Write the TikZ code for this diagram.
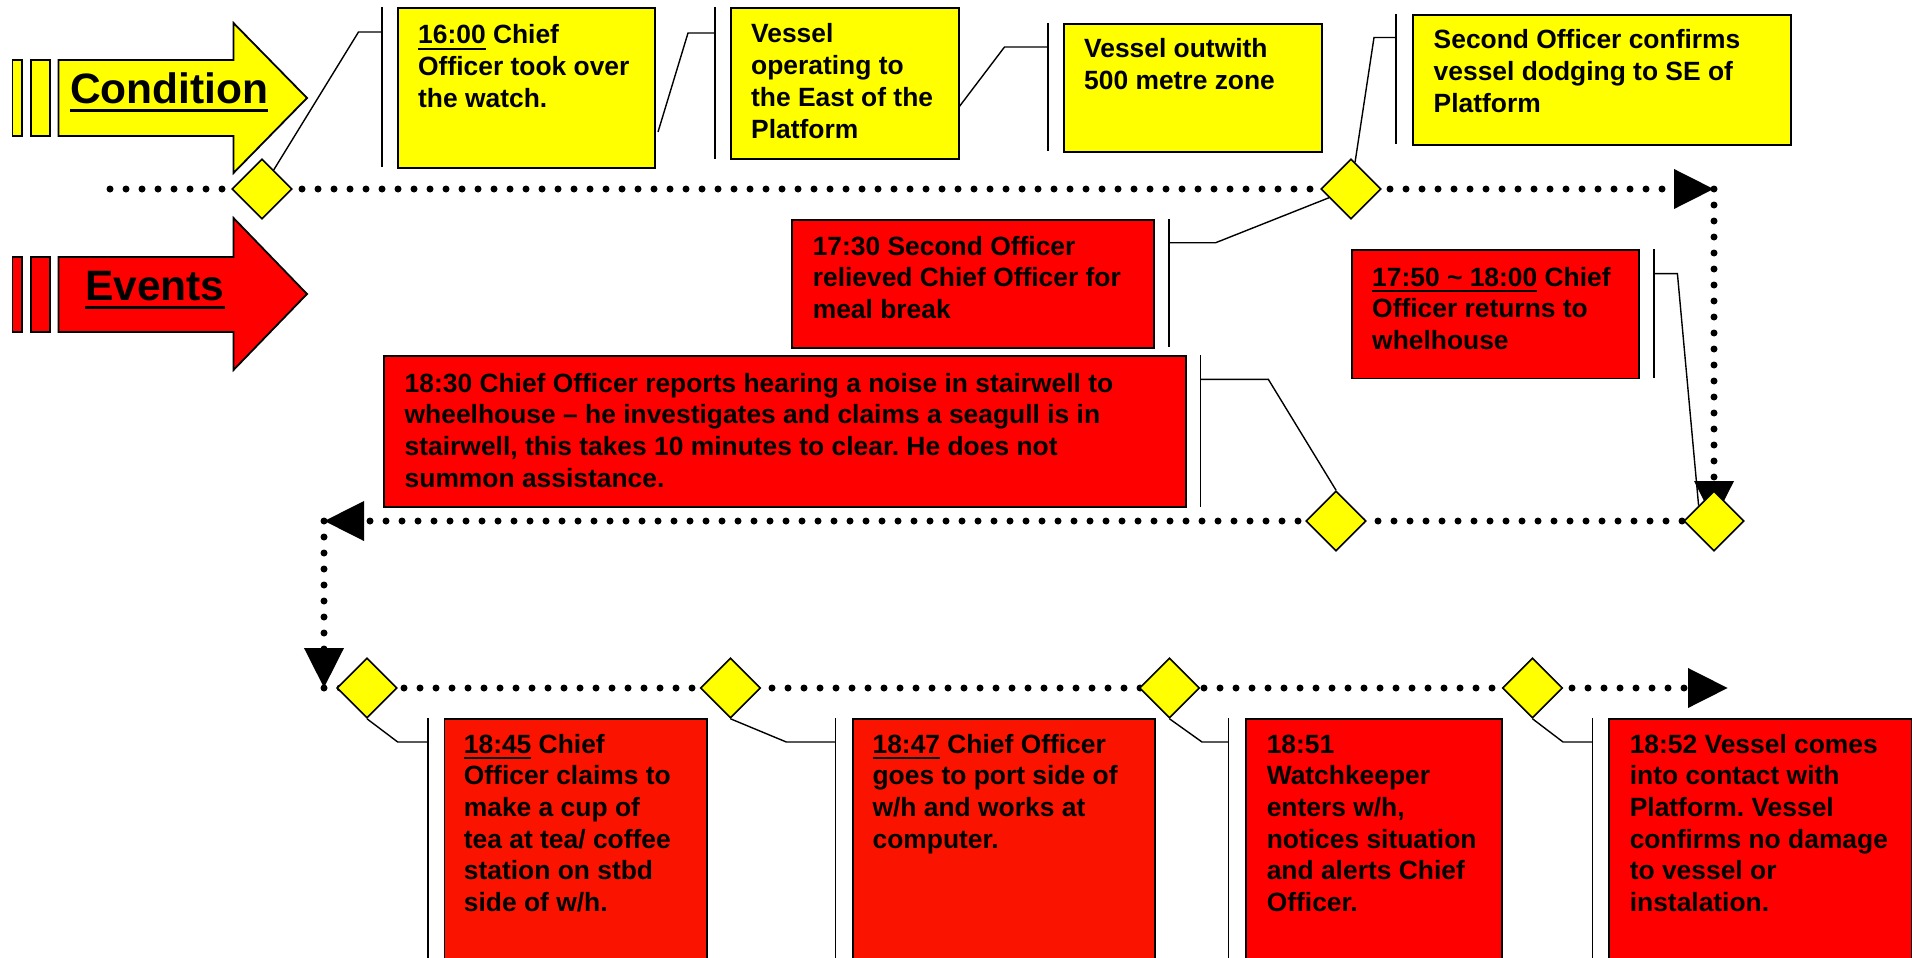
\documentclass[tikz,border=0pt]{standalone}
\usepackage{fontspec}
\setmainfont{Liberation Sans}
\usetikzlibrary{shapes.geometric,arrows.meta}
\definecolor{cyel}{RGB}{255,255,0}
\definecolor{cred}{RGB}{255,0,0}
\definecolor{credb}{RGB}{250,20,0}
\newcommand\myul[1]{\leavevmode\setbox0=\hbox{#1}\rlap{\rule[-0.22em]{\wd0}{0.08em}}\box0\relax}
\pgfdeclarelayer{background}
\pgfsetlayers{background,main}
\frenchspacing
\begin{document}
\begin{tikzpicture}[x=1pt,y=-1pt,
  outline/.style={draw=black,line width=1.8pt},
  ybox/.style={outline,fill=cyel,rectangle,inner sep=0pt,anchor=north west},
  rbox/.style={outline,fill=cred,rectangle,inner sep=0pt,anchor=north west},
  rboxb/.style={rbox,fill=credb},
  diam/.style={diamond,draw=black,line width=1.6pt,fill=cyel,minimum width=60pt,minimum height=60pt,inner sep=0pt},
  btext/.style={anchor=base west,inner sep=0pt,font=\fontsize{26.4pt}{31.7pt}\selectfont\bfseries\frenchspacing},
  ttext/.style={anchor=base west,inner sep=0pt,font=\fontsize{42.5pt}{50pt}\selectfont\bfseries},
  callout/.style={draw=black,line width=1.4pt},
  dotline/.style={draw=black,line width=7pt,line cap=round,dash pattern=on 0pt off 16pt,-{Triangle[length=40pt,width=38pt]}},
]
\useasboundingbox (0,0) rectangle (1912,958);
\clip (0,0) rectangle (1912,958);
\begin{pgfonlayer}{background}
\fill[white] (0,0) rectangle (1912,958);
\end{pgfonlayer}

% Condition arrow
\draw[outline,fill=cyel] (12.5,60) rectangle (22,136);
\draw[outline,fill=cyel] (31,60) rectangle (50,136);
\draw[outline,fill=cyel] (58.5,60) -- (233.5,60) -- (233.5,23) -- (307,98) -- (233.5,173) -- (233.5,136) -- (58.5,136) -- cycle;
\node[ttext] (cond) at (70,103) {\myul{Condition}};

% Events arrow
\draw[outline,fill=cred] (12.5,257) rectangle (22,332);
\draw[outline,fill=cred] (31,257) rectangle (50,332);
\draw[outline,fill=cred] (58.5,257) -- (233.5,257) -- (233.5,218) -- (307,294) -- (233.5,370) -- (233.5,332) -- (58.5,332) -- cycle;
\node[ttext] (ev) at (85,300) {\myul{Events}};

% timeline markers
\node[diam] (d1) at (262,189) {};
\node[diam] (d2) at (1351,189) {};
\node[diam] (d3) at (1336,521) {};
\node[diam] (d4) at (1714,521) {};
\node[diam] (d5) at (367,688) {};
\node[diam] (d6) at (730.5,688) {};
\node[diam] (d7) at (1169.5,688) {};
\node[diam] (d8) at (1532.5,688) {};

\coordinate (s1) at (110,189);
\coordinate (c1) at (1714,189);
\coordinate (c2) at (324,521);
\coordinate (c3) at (324,688);
\coordinate (e3) at (1728,688);
\coordinate (p2) at (658,132);
\coordinate (p3) at (959,107);

\begin{pgfonlayer}{background}
\draw[dotline] (s1) -- (c1);
\draw[dotline] (c1) -- (d4.center);
\draw[dotline] (d4.center) -- (c2);
\draw[dotline] (c2) -- (c3);
\draw[dotline] (c3) -- (e3);
\end{pgfonlayer}

% Condition boxes
\node[ybox,minimum width=257pt,minimum height=160pt] (b1) at (397,7) {};
\draw[callout] (382,7) -- (382,167);
\node[btext] (t1) at (418,44) {\parbox[t]{600pt}{\raggedright\myul{16:00} Chief\\Officer took over\\the watch.}};
\draw[callout] (382,32) -- (358.5,32) -- (d1);

\node[ybox,minimum width=228pt,minimum height=151pt] (b2) at (730,7) {};
\draw[callout] (714.8,7) -- (714.8,159);
\node[btext] (t2) at (751,43) {\parbox[t]{600pt}{\raggedright Vessel\\operating to\\the East of the\\Platform}};
\draw[callout] (714.8,33) -- (688,33) -- (p2);

\node[ybox,minimum width=258pt,minimum height=128pt] (b3) at (1063,23) {};
\draw[callout] (1048,23) -- (1048,151);
\node[btext] (t3) at (1084,58) {\parbox[t]{600pt}{\raggedright Vessel outwith\\500 metre zone}};
\draw[callout] (1048,47) -- (1004.5,47) -- (p3);

\node[ybox,minimum width=378pt,minimum height=130pt] (b4) at (1412,14) {};
\draw[callout] (1396,14) -- (1396,144);
\node[btext] (t4) at (1433.5,49) {\parbox[t]{600pt}{\raggedright Second Officer confirms\\vessel dodging to SE of\\Platform}};
\draw[callout] (1396,37.5) -- (1374,37.5) -- (d2);

% Event boxes
\node[rbox,minimum width=362.3pt,minimum height=127.7pt] (r1) at (790.7,219) {};
\draw[callout] (1168.8,219) -- (1168.8,346.7);
\node[btext] (u1) at (812.6,255) {\parbox[t]{600pt}{\raggedright 17:30 Second Officer\\relieved Chief Officer for\\meal break}};
\draw[callout] (1168.8,242.7) -- (1215.7,242.7) -- (d2);

\node[rbox,minimum width=287.7pt,minimum height=128.5pt] (r2) at (1350.7,249) {};
\draw[callout] (1654,249) -- (1654,377.5);
\node[btext] (u2) at (1372,286) {\parbox[t]{600pt}{\raggedright\myul{17:50 \textasciitilde{} 18:00} Chief\\Officer returns to\\whelhouse}};
\draw[callout] (1654,273.6) -- (1677.4,273.6) -- (d4.north west);

\node[rbox,minimum width=802pt,minimum height=151pt] (r3) at (383,355) {};
\draw[callout] (1200.7,355) -- (1200.7,506.7);
\node[btext] (u3) at (404.5,392) {\parbox[t]{900pt}{\raggedright 18:30 Chief Officer reports hearing a noise in stairwell to\\wheelhouse – he investigates and claims a seagull is in\\stairwell, this takes 10 minutes to clear. He does not\\summon assistance.}};
\draw[callout] (1200.7,379.3) -- (1268.3,379.3) -- (d3.north);

\node[rboxb,minimum width=262.4pt,minimum height=262pt] (r4) at (443.6,718) {};
\draw[callout] (428,718) -- (428,980);
\node[btext] (u4) at (463.7,753) {\parbox[t]{600pt}{\raggedright\myul{18:45} Chief\\Officer claims to\\make a cup of\\tea at tea/ coffee\\station on stbd\\side of w/h.}};
\draw[callout] (d5.south) -- (397.7,742) -- (428,742);

\node[rboxb,minimum width=301.4pt,minimum height=262pt] (r5) at (852.3,718) {};
\draw[callout] (835.7,718) -- (835.7,980);
\node[btext] (u5) at (872.4,753) {\parbox[t]{600pt}{\raggedright\myul{18:47} Chief Officer\\goes to port side of\\w/h and works at\\computer.}};
\draw[callout] (d6.south) -- (786.3,742) -- (835.7,742);

\node[rbox,minimum width=256.5pt,minimum height=262pt] (r6) at (1244.8,718) {};
\draw[callout] (1228.7,718) -- (1228.7,980);
\node[btext] (u6) at (1266.6,753) {\parbox[t]{600pt}{\raggedright 18:51\\Watchkeeper\\enters w/h,\\notices situation\\and alerts Chief\\Officer.}};
\draw[callout] (d7.south) -- (1202,742) -- (1228.7,742);

\node[rbox,minimum width=302.8pt,minimum height=262pt] (r7) at (1607.7,718) {};
\draw[callout] (1592.2,718) -- (1592.2,980);
\node[btext] (u7) at (1629.6,753) {\parbox[t]{600pt}{\raggedright 18:52 Vessel comes\\into contact with\\Platform. Vessel\\confirms no damage\\to vessel or\\instalation.}};
\draw[callout] (d8.south) -- (1563,742) -- (1592.2,742);
\end{tikzpicture}
\end{document}
